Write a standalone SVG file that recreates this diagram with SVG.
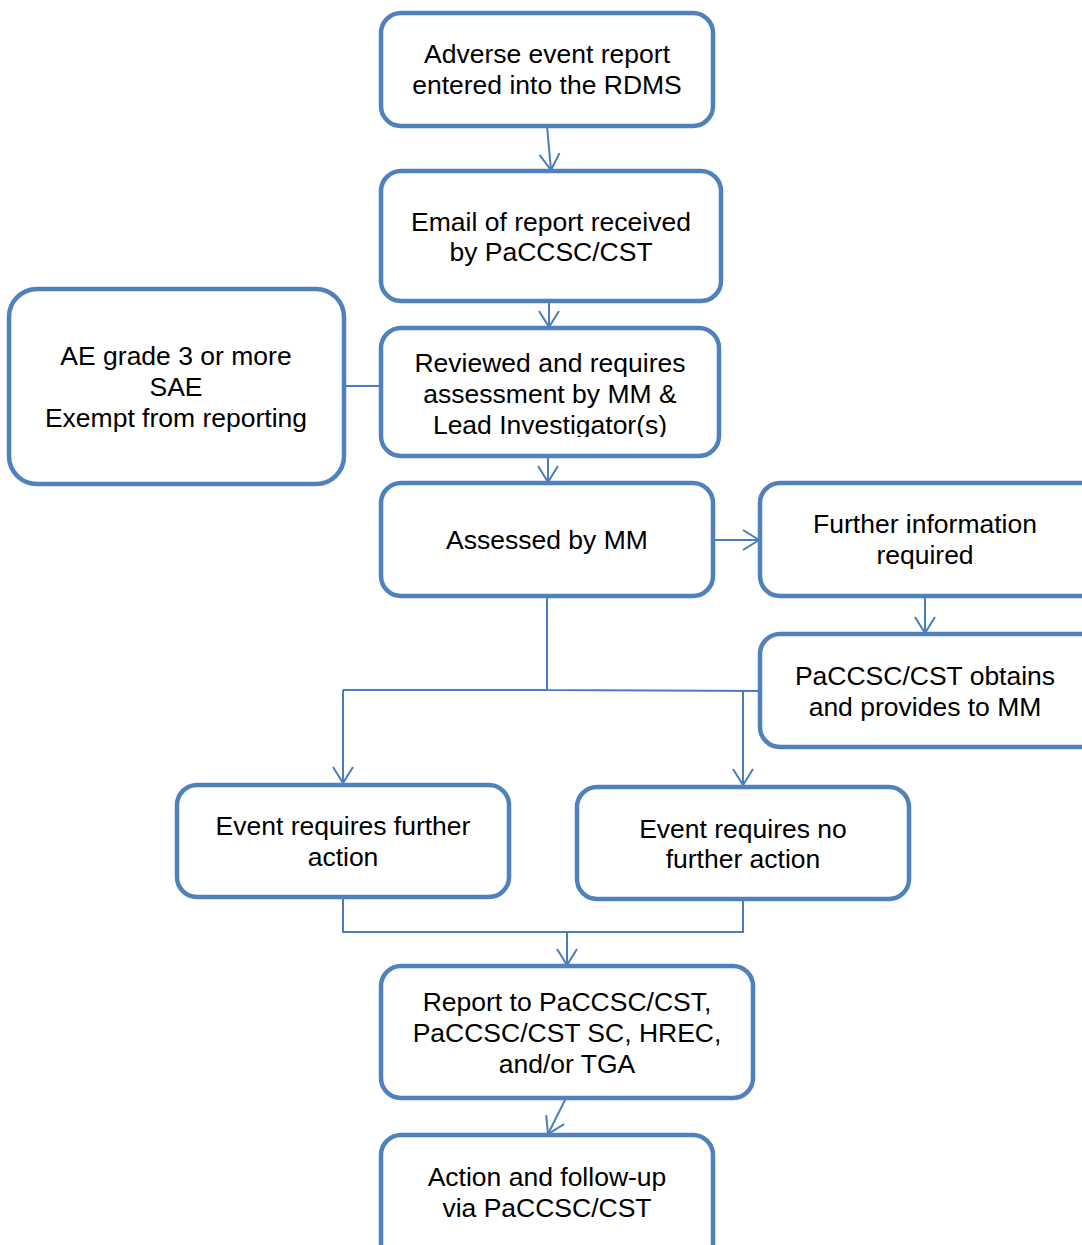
<svg xmlns="http://www.w3.org/2000/svg" width="1082" height="1245" viewBox="0 0 1082 1245">
<style>
.box{fill:#ffffff;stroke:#4f81bd;stroke-width:4.5}
.lbl{font-family:"Liberation Sans",Arial,sans-serif;font-size:26.5px;fill:#000000;text-anchor:middle}
.con{fill:none;stroke:#4a7ebb;stroke-width:2}
.arr{marker-end:url(#ah)}
</style>
<defs>
<marker id="ah" markerUnits="userSpaceOnUse" viewBox="-18 -12 20 24" refX="0" refY="0" markerWidth="20" markerHeight="24" orient="auto">
<path d="M-16,-10 L0,0 L-16,10" fill="none" stroke="#4a7ebb" stroke-width="2"/>
</marker>
<clipPath id="c3"><rect x="381" y="328" width="340" height="109"/></clipPath>
</defs>
<g id="connectors">
<path class="con arr" d="M547,126 L551,170"/>
<path class="con arr" d="M549,301 L549,327"/>
<path class="con" d="M344,386 L381,386"/>
<path class="con arr" d="M548,456 L548,482"/>
<path class="con arr" d="M713,540 L759,540"/>
<path class="con arr" d="M925,596 L925,633"/>
<path class="con" d="M547,596 L547,690 M343,690 L547,690 L760,691"/>
<path class="con arr" d="M343,690 L343,783"/>
<path class="con arr" d="M743,691 L743,785"/>
<path class="con" d="M343,897 L343,932 L743,932 L743,899"/>
<path class="con arr" d="M567,932 L567,965"/>
<path class="con arr" d="M566,1098 L548,1134"/>
</g>
<g id="n1"><rect class="box" x="381" y="13" width="332" height="113" rx="20"/>
<text class="lbl" x="547" y="63">Adverse event report</text><text class="lbl" x="547" y="94">entered into the RDMS</text></g>
<g id="n2"><rect class="box" x="381" y="171" width="340" height="130" rx="20"/>
<text class="lbl" x="551" y="231">Email of report received</text><text class="lbl" x="551" y="261">by PaCCSC/CST</text></g>
<g id="n3"><rect class="box" x="381" y="328" width="338" height="128" rx="20"/>
<g clip-path="url(#c3)"><text class="lbl" x="550" y="372">Reviewed and requires</text><text class="lbl" x="550" y="403">assessment by MM &amp;</text><text class="lbl" x="550" y="434">Lead Investigator(s)</text></g></g>
<g id="n_left"><rect class="box" x="9" y="289" width="335" height="195" rx="28"/>
<text class="lbl" x="176" y="365">AE grade 3 or more</text><text class="lbl" x="176" y="396">SAE</text><text class="lbl" x="176" y="427">Exempt from reporting</text></g>
<g id="n4"><rect class="box" x="381" y="483" width="332" height="113" rx="20"/>
<text class="lbl" x="547" y="549">Assessed by MM</text></g>
<g id="n_further"><rect class="box" x="760" y="483" width="340" height="113" rx="20"/>
<text class="lbl" x="925" y="533">Further information</text><text class="lbl" x="925" y="564">required</text></g>
<g id="n_obtains"><rect class="box" x="760" y="634" width="340" height="113" rx="20"/>
<text class="lbl" x="925" y="685">PaCCSC/CST obtains</text><text class="lbl" x="925" y="716">and provides to MM</text></g>
<g id="n_action_req"><rect class="box" x="177" y="785" width="332" height="112" rx="20"/>
<text class="lbl" x="343" y="835">Event requires further</text><text class="lbl" x="343" y="866">action</text></g>
<g id="n_no_action"><rect class="box" x="577" y="787" width="332" height="112" rx="20"/>
<text class="lbl" x="743" y="838">Event requires no</text><text class="lbl" x="743" y="868">further action</text></g>
<g id="n_report"><rect class="box" x="381" y="966" width="372" height="132" rx="20"/>
<text class="lbl" x="567" y="1011">Report to PaCCSC/CST,</text><text class="lbl" x="567" y="1042">PaCCSC/CST SC, HREC,</text><text class="lbl" x="567" y="1073">and/or TGA</text></g>
<g id="n_follow"><rect class="box" x="381" y="1135" width="332" height="130" rx="20"/>
<text class="lbl" x="547" y="1186">Action and follow-up</text><text class="lbl" x="547" y="1217">via PaCCSC/CST</text></g>
</svg>
